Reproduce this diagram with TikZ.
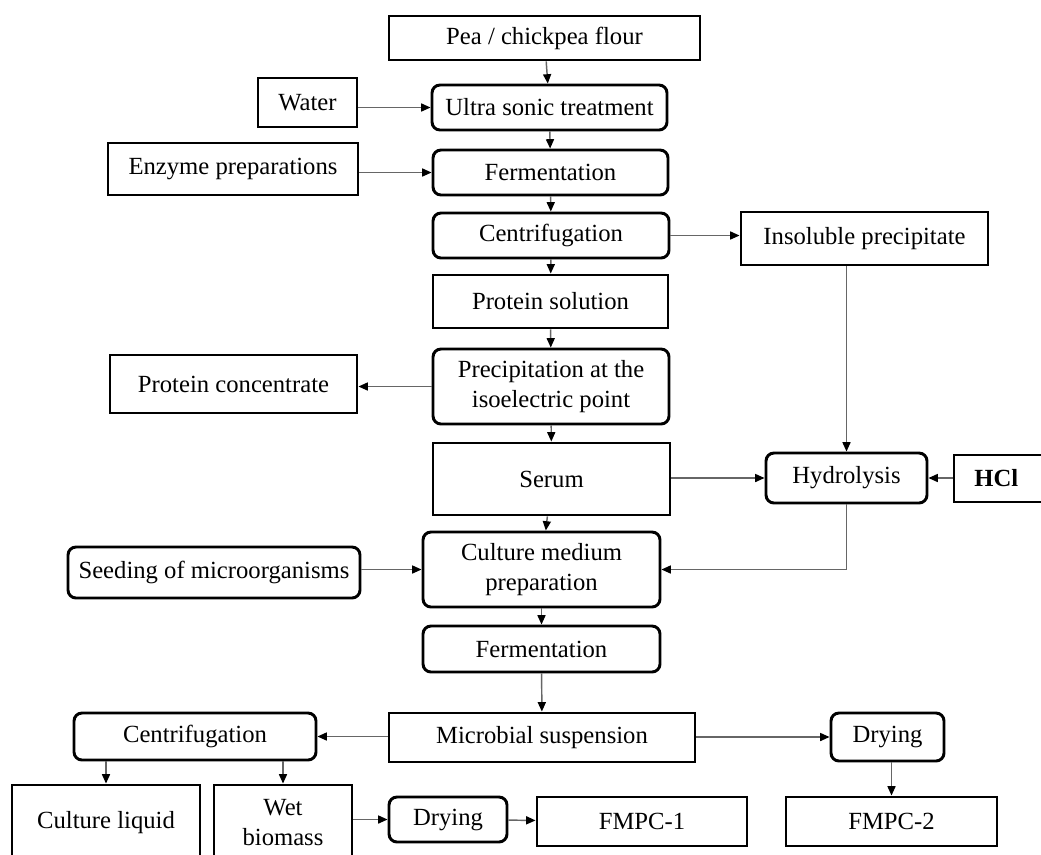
\documentclass[tikz,border=0pt]{standalone}
\usepackage{fontspec}
\setmainfont{Liberation Serif}
\usetikzlibrary{arrows.meta}
\newcommand{\bx}[7]{\node[#2, minimum width={(#5-#3)*0.75pt}, minimum height={(#6-#4)*0.75pt}] (#1) at ({(#3+#5)/2},{(#4+#6)/2}) {#7};}
\tikzset{
  box/.style={draw=black, line width=2.2pt, inner sep=0pt, align=center, font=\fontsize{18.5}{23}\selectfont, fill=white},
  rbox/.style={box, rounded corners=6pt},
  arr/.style={draw=black!60, line width=1.1pt, -{Triangle[length=7pt,width=6pt,color=black]}},
  ln/.style={draw=black!60, line width=1.1pt},
}
\begin{document}
\begin{tikzpicture}[x=0.75pt,y=-0.75pt]
\clip (0,0) rectangle (1041,854);
\fill[white] (0,0) rectangle (1041,854);
\bx{flour}{box}{389}{16}{700}{60}{Pea / chickpea flour}
\bx{water}{box}{258}{78}{357}{127}{Water}
\bx{ultra}{rbox}{432}{85}{667}{130}{Ultra sonic treatment}
\bx{enz}{box}{108}{143}{358}{195}{Enzyme preparations}
\bx{fer1}{rbox}{433}{150}{668}{195}{Fermentation}
\bx{cen1}{rbox}{433}{213}{669}{258}{Centrifugation}
\bx{ins}{box}{741}{212}{988}{265}{Insoluble precipitate}
\bx{psol}{box}{433}{275}{668}{328}{Protein solution}
\bx{pcon}{box}{110}{355}{357}{413}{Protein concentrate}
\bx{prec}{rbox}{433}{349}{669}{424}{Precipitation at the\\isoelectric point}
\bx{serum}{box}{433}{443}{670}{515}{Serum}
\bx{hyd}{rbox}{766}{453}{927}{503}{Hydrolysis}
\bx{hcl}{box}{954}{455}{1052}{502}{\textbf{HCl}\hspace*{10pt}}
\bx{seed}{rbox}{68}{547}{360}{598}{Seeding of microorganisms}
\bx{cult}{rbox}{423}{532}{660}{607}{Culture medium\\preparation}
\bx{fer2}{rbox}{423}{626}{660}{672}{Fermentation}
\bx{micro}{box}{389}{713}{695}{762}{Microbial suspension}
\bx{cen2}{rbox}{74}{713}{316}{760}{Centrifugation}
\bx{dryr}{rbox}{831}{713}{944}{761}{Drying}
\bx{fmpc2}{box}{786}{797}{997}{846}{FMPC-2}
\bx{cliq}{box}{12}{785}{200}{860}{Culture liquid}
\bx{wet}{box}{214}{785}{352}{860}{Wet\\biomass}
\bx{dryb}{rbox}{389}{797}{507}{842}{Drying}
\bx{fmpc1}{box}{537}{797}{747}{846}{FMPC-1}

\draw[arr] (flour) -- (ultra);
\draw[arr] (ultra.west -| water.east) -- (ultra.west);
\draw[arr] (ultra) -- (fer1);
\draw[arr] (fer1.west -| enz.east) -- (fer1.west);
\draw[arr] (fer1) -- (cen1);
\draw[arr] (cen1.east) -- (cen1.east -| ins.west);
\draw[arr] (cen1) -- (psol);
\draw[arr] (psol) -- (prec);
\draw[arr] (prec.west) -- (prec.west -| pcon.east);
\draw[arr] (prec) -- (serum);
\draw[arr] (ins.south -| hyd.north) -- (hyd.north);
\draw[arr] (serum.east |- hyd.west) -- (hyd.west);
\draw[arr] (hcl.west |- hyd.east) -- (hyd.east);
\draw[arr] (serum) -- (cult);
\draw[arr] (hyd.south) |- (cult.east);
\draw[arr] (seed.east |- cult.west) -- (cult.west);
\draw[arr] (cult) -- (fer2);
\draw[arr] (fer2) -- (micro);
\draw[arr] (micro.west |- cen2.east) -- (cen2.east);
\draw[arr] (micro.east |- dryr.west) -- (dryr.west);
\draw[arr] (cen2.south -| cliq.north) -- (cliq.north);
\draw[arr] (cen2.south -| wet.north) -- (wet.north);
\draw[arr] (wet.east |- dryb.west) -- (dryb.west);
\draw[arr] (dryb) -- (fmpc1);
\draw[arr] (dryr.south -| fmpc2.north) -- (fmpc2.north);
\end{tikzpicture}
\end{document}
